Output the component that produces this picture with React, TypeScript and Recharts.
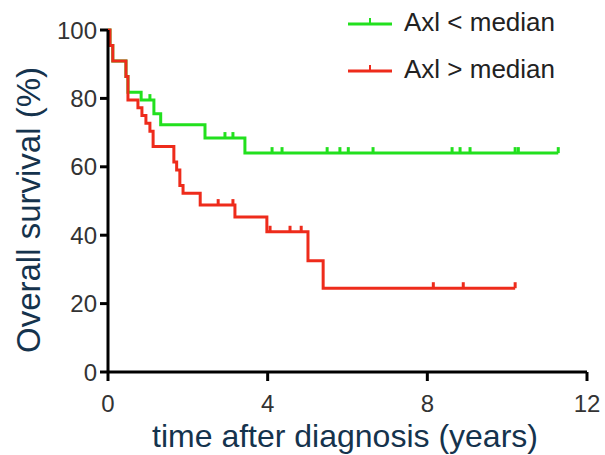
import { LineChart, Line, XAxis, YAxis, Label } from 'recharts';

const seriesNames = ['Axl < median', 'Axl > median'];
const seriesColors = ['#22e01e', '#ee2b1b'];

// Axl < median: event times (years) and survival (%) after each step
const lowTimes = [0, 0.05, 0.12, 0.45, 0.5, 0.83, 1.15, 1.32, 2.43, 3.43];
const lowSurvival = [100, 95.5, 90.9, 86.4, 81.8, 79.5, 75.5, 72.3, 68.4, 64.0];
const lowCensored = [1.05, 2.93, 3.13, 4.11, 4.36, 5.49, 5.81, 6.02, 6.64, 8.62, 8.82, 9.07, 10.2, 10.28, 11.28];

// Axl > median
const highTimes = [0, 0.05, 0.12, 0.45, 0.5, 0.75, 0.85, 0.95, 1.05, 1.13, 1.65, 1.72, 1.8, 1.88, 2.31, 3.18, 3.98, 5.01, 5.39];
const highSurvival = [100, 95.5, 90.9, 86.4, 79.5, 77.3, 75, 72.7, 70.4, 65.9, 61.4, 59.1, 54.5, 52.3, 48.8, 45.3, 41.0, 32.5, 24.5];
const highCensored = [2.76, 3.13, 4.06, 4.56, 4.84, 8.15, 8.9, 10.2];

const xTicks = [0, 4, 8, 12];
const yTicks = [0, 20, 40, 60, 80, 100];

type Pt = { t: number; s: number; censored: boolean };

function buildCurve(times: number[], surv: number[], censored: number[]): Pt[] {
  const pts: Pt[] = times.map((t, i) => ({ t, s: surv[i], censored: false }));
  censored.forEach((c) => {
    let idx = 0;
    times.forEach((t, i) => {
      if (t <= c) idx = i;
    });
    pts.push({ t: c, s: surv[idx], censored: true });
  });
  return pts.sort((a, b) => a.t - b.t);
}

const lowData = buildCurve(lowTimes, lowSurvival, lowCensored);
const highData = buildCurve(highTimes, highSurvival, highCensored);

const censorDot = (color: string) => (props: any) => {
  const { cx, cy, payload, index } = props;
  if (!payload || !payload.censored) return <g key={`d-${index}`} />;
  return <line key={`d-${index}`} x1={cx} y1={cy - 6} x2={cx} y2={cy} stroke={color} strokeWidth={3} />;
};

const axisStroke = { stroke: '#000', strokeWidth: 3 };
const tickStyle = { fontSize: 24, fill: '#333', fontFamily: 'Liberation Sans, Arial, sans-serif' };
const titleColor = '#15334d';

export default function App() {
  return (
    <div style={{ position: 'absolute', left: 0, top: 0, width: 605, height: 455, background: '#fff' }}>
      <LineChart width={605} height={455} margin={{ top: 30, right: 18, bottom: 0, left: 0 }}>
        <XAxis
          type="number"
          dataKey="t"
          domain={[0, 12]}
          ticks={xTicks}
          height={83}
          axisLine={axisStroke}
          tickLine={axisStroke}
          tickSize={9}
          tickMargin={14}
          tick={tickStyle}
          allowDuplicatedCategory={false}
        >
          <Label
            content={() => (
              <text
                x={345}
                y={447}
                textAnchor="middle"
                fontSize={32}
                fill={titleColor}
                fontFamily="Liberation Sans, Arial, sans-serif"
              >
                time after diagnosis (years)
              </text>
            )}
          />
        </XAxis>
        <YAxis
          type="number"
          dataKey="s"
          domain={[0, 100]}
          ticks={yTicks}
          width={108}
          axisLine={axisStroke}
          tickLine={axisStroke}
          tickSize={8}
          tickMargin={3}
          tick={tickStyle}
        >
          <Label
            content={() => (
              <text
                x={0}
                y={0}
                transform="translate(40 210) rotate(-90)"
                textAnchor="middle"
                fontSize={33}
                fill={titleColor}
                fontFamily="Liberation Sans, Arial, sans-serif"
              >
                Overall survival (%)
              </text>
            )}
          />
        </YAxis>
        <Line
          data={lowData}
          dataKey="s"
          name={seriesNames[0]}
          type="stepAfter"
          stroke={seriesColors[0]}
          strokeWidth={3}
          dot={censorDot(seriesColors[0])}
          activeDot={false}
          isAnimationActive={false}
        />
        <Line
          data={highData}
          dataKey="s"
          name={seriesNames[1]}
          type="stepAfter"
          stroke={seriesColors[1]}
          strokeWidth={3}
          dot={censorDot(seriesColors[1])}
          activeDot={false}
          isAnimationActive={false}
        />
      </LineChart>
      <div
        style={{
          position: 'absolute',
          left: 346,
          top: 5,
          fontFamily: 'Liberation Sans, Arial, sans-serif',
          fontSize: 26,
          color: '#222',
        }}
      >
        {seriesNames.map((name, i) => (
          <div key={name} style={{ display: 'flex', alignItems: 'center', height: 34, marginBottom: i === 0 ? 13 : 0 }}>
            <svg width={58} height={20} style={{ display: 'block' }}>
              <line x1={2} y1={12} x2={46} y2={12} stroke={seriesColors[i]} strokeWidth={3} />
              <line x1={24} y1={6} x2={24} y2={12} stroke={seriesColors[i]} strokeWidth={2} />
            </svg>
            <span>{name}</span>
          </div>
        ))}
      </div>
    </div>
  );
}
